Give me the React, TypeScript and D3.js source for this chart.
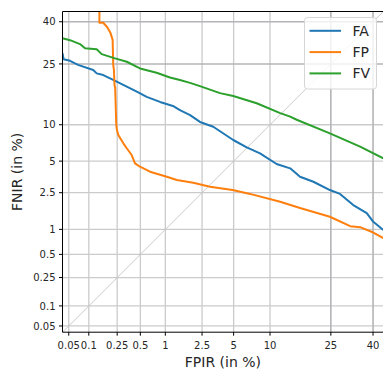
import React from "react";
import * as d3 from "d3";

// FPIR / FNIR values in percent
const faFpir = [0.040, 0.0416, 0.0523, 0.0693, 0.116, 0.130, 0.161, 0.221, 0.335, 0.451, 0.600, 0.866, 1.22, 1.46, 1.88, 2.38, 3.23, 4.96, 6.50, 8.36, 11.2, 14.0, 16.3, 19.8, 24.7, 28.0, 32.6, 37.6, 40.1, 44.0];
const faFnir = [28.5, 26.5, 26.0, 24.7, 23.1, 22.1, 21.6, 20.2, 18.4, 17.1, 15.8, 14.6, 13.7, 12.8, 11.8, 10.5, 9.65, 7.58, 6.59, 5.86, 4.71, 4.30, 3.59, 3.21, 2.66, 2.43, 1.86, 1.52, 1.22, 0.985];

const fpFpir = [0.142, 0.142, 0.161, 0.182, 0.203, 0.217, 0.221, 0.226, 0.230, 0.235, 0.243, 0.248, 0.259, 0.302, 0.335, 0.388, 0.428, 0.495, 0.658, 1.04, 1.35, 2.03, 3.00, 4.9, 6.93, 11.9, 16.3, 24.7, 31.5, 35.1, 40.1, 44.0];
const fpFnir = [60.0, 39.6, 39.6, 38.0, 35.7, 33.2, 24.7, 23.1, 18.8, 18.0, 9.96, 9.11, 8.32, 7.12, 6.47, 5.66, 4.78, 4.45, 4.00, 3.59, 3.34, 3.14, 2.87, 2.66, 2.43, 2.02, 1.73, 1.39, 1.09, 1.06, 0.92, 0.79];

const fvFpir = [0.040, 0.0523, 0.0741, 0.088, 0.130, 0.153, 0.234, 0.335, 0.495, 0.79, 1.13, 1.46, 1.88, 2.38, 3.75, 4.96, 7.86, 11.9, 14.0, 15.5, 24.7, 35.1, 44.0];
const fvFnir = [33.8, 33.1, 31.7, 30.2, 29.9, 28.2, 26.8, 25.7, 23.6, 22.3, 20.9, 20.2, 19.4, 18.5, 16.7, 16.0, 14.3, 12.2, 11.5, 10.9, 8.58, 6.67, 5.30];

const seriesNames = ["FA", "FP", "FV"];
const seriesColors = ["#1f77b4", "#ff7f0e", "#2ca02c"];

const tickValues = [0.05, 0.1, 0.25, 0.5, 1, 2.5, 5, 10, 25, 40];
const tickLabels = ["0.05", "0.1", "0.25", "0.5", "1", "2.5", "5", "10", "25", "40"];
const axisLimits = [0.04, 44];
const diagonal = [0.04, 44];

// inverse normal CDF (Acklam)
function ppf(p: number): number {
  const a = [-3.969683028665376e1, 2.209460984245205e2, -2.759285104469687e2, 1.38357751867269e2, -3.066479806614716e1, 2.506628277459239];
  const b = [-5.447609879822406e1, 1.615858368580409e2, -1.556989798598866e2, 6.680131188771972e1, -1.328068155288572e1];
  const c = [-7.784894002430293e-3, -3.223964580411365e-1, -2.400758277161838, -2.549732539343734, 4.374664141464968, 2.938163982698783];
  const d = [7.784695709041462e-3, 3.224671290700398e-1, 2.445134137142996, 3.754408661907416];
  const pl = 0.02425;
  if (p < pl) {
    const q = Math.sqrt(-2 * Math.log(p));
    return (((((c[0] * q + c[1]) * q + c[2]) * q + c[3]) * q + c[4]) * q + c[5]) / ((((d[0] * q + d[1]) * q + d[2]) * q + d[3]) * q + 1);
  }
  if (p > 1 - pl) {
    const q = Math.sqrt(-2 * Math.log(1 - p));
    return -(((((c[0] * q + c[1]) * q + c[2]) * q + c[3]) * q + c[4]) * q + c[5]) / ((((d[0] * q + d[1]) * q + d[2]) * q + d[3]) * q + 1);
  }
  const q = p - 0.5;
  const r = q * q;
  return ((((((a[0] * r + a[1]) * r + a[2]) * r + a[3]) * r + a[4]) * r + a[5]) * q) / (((((b[0] * r + b[1]) * r + b[2]) * r + b[3]) * r + b[4]) * r + 1);
}

const W = 383;
const H = 371;
const left = 62.5;
const right = 383.3;
const top = 11.5;
const bottom = 332.2;

export default function App() {
  const zx = d3.scaleLinear().domain([ppf(axisLimits[0] / 100), ppf(axisLimits[1] / 100)]).range([left, right]);
  const zy = d3.scaleLinear().domain([ppf(axisLimits[0] / 100), ppf(axisLimits[1] / 100)]).range([bottom, top]);
  const x = (v: number) => zx(ppf(v / 100));
  const y = (v: number) => zy(ppf(v / 100));

  const series = [
    { xs: faFpir, ys: faFnir },
    { xs: fpFpir, ys: fpFnir },
    { xs: fvFpir, ys: fvFnir },
  ];
  const line = d3.line<[number, number]>().x((d) => x(d[0])).y((d) => y(d[1]));
  const font = "DejaVu Sans, sans-serif";
  const dark = (v: number) => v >= 25;

  return (
    <svg width={W} height={H} style={{ position: "absolute", left: 0, top: 0, background: "#fff" }} fontFamily={font}>
      <defs>
        <clipPath id="plot">
          <rect x={left} y={top} width={right - left} height={bottom - top} />
        </clipPath>
      </defs>
      {/* grid */}
      {tickValues.map((v, i) => (
        <g key={"g" + i}>
          <line x1={x(v)} x2={x(v)} y1={top} y2={bottom} stroke={dark(v) ? "#b4b4b8" : "#cbcbcb"} strokeWidth={dark(v) ? 1.6 : 1.3} />
          <line x1={left} x2={right} y1={y(v)} y2={y(v)} stroke={dark(v) ? "#b4b4b8" : "#cbcbcb"} strokeWidth={dark(v) ? 1.6 : 1.3} />
        </g>
      ))}
      {/* diagonal */}
      <line x1={x(diagonal[0])} y1={y(diagonal[0])} x2={x(diagonal[1])} y2={y(diagonal[1])} stroke="#c4c4c4" strokeWidth={0.9} clipPath="url(#plot)" />
      {/* curves */}
      <g clipPath="url(#plot)">
        {series.map((s, i) => (
          <path key={i} d={line(s.xs.map((v, j) => [v, s.ys[j]] as [number, number])) || ""} fill="none" stroke={seriesColors[i]} strokeWidth={2} strokeLinejoin="round" />
        ))}
      </g>
      {/* spines */}
      <line x1={left} x2={left} y1={top} y2={bottom} stroke="#000" strokeWidth={1} />
      <line x1={left} x2={right} y1={bottom} y2={bottom} stroke="#000" strokeWidth={1} />
      <line x1={left} x2={right} y1={top} y2={top} stroke="#000" strokeWidth={1} />
      {/* ticks */}
      {tickValues.map((v, i) => (
        <g key={"t" + i}>
          <line x1={x(v)} x2={x(v)} y1={bottom} y2={bottom + 3.5} stroke="#000" strokeWidth={1} />
          <text x={x(v)} y={bottom + 16.5} fontSize={10} textAnchor="middle" fill="#262626">{tickLabels[i]}</text>
          <line x1={left - 3.5} x2={left} y1={y(v)} y2={y(v)} stroke="#000" strokeWidth={1} />
          <text x={left - 7} y={y(v) + 3.6} fontSize={10} textAnchor="end" fill="#262626">{tickLabels[i]}</text>
        </g>
      ))}
      {/* axis labels */}
      <text x={(left + right) / 2} y={367} fontSize={14} textAnchor="middle" fill="#262626">FPIR (in %)</text>
      <text transform={`translate(21.5, ${(top + bottom) / 2}) rotate(-90)`} fontSize={14} textAnchor="middle" fill="#262626">FNIR (in %)</text>
      {/* legend */}
      <rect x={304.5} y={17.5} width={72} height={71.5} rx={3} fill="#fff" fillOpacity={0.8} stroke="#d6d6d6" strokeWidth={1} />
      {seriesNames.map((n, i) => (
        <g key={"l" + i}>
          <line x1={309.5} x2={341} y1={30.8 + i * 21.3} y2={30.8 + i * 21.3} stroke={seriesColors[i]} strokeWidth={2} />
          <text x={352.5} y={30.8 + i * 21.3 + 5} fontSize={14} fill="#262626">{n}</text>
        </g>
      ))}
    </svg>
  );
}
